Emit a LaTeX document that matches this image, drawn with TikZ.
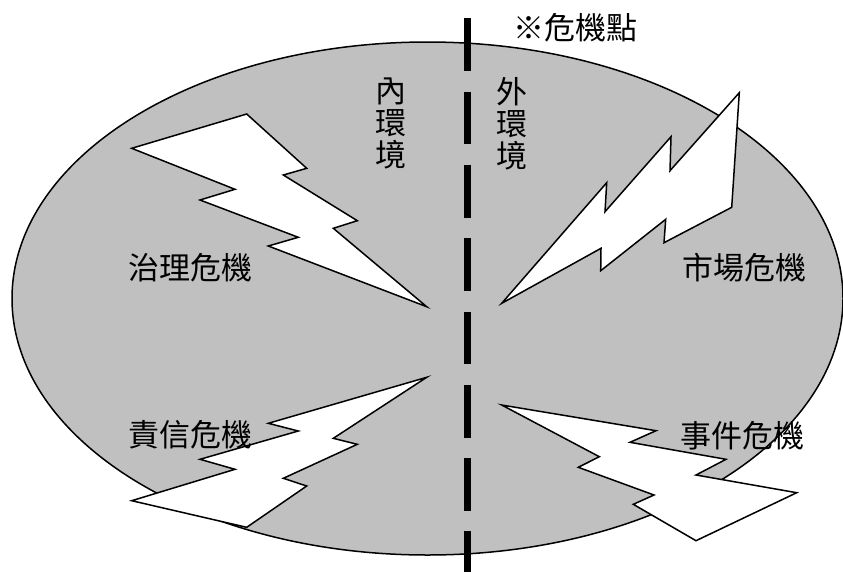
\documentclass[tikz,border=0pt]{standalone}
\usepackage{fontspec}
\newfontfamily\cjk{Noto Sans CJK TC}
\definecolor{silverfill}{RGB}{192,192,192}
\tikzset{
  bolt/.style={draw=black, fill=white, line width=1.5pt, line join=miter},
  label/.style={font=\cjk\fontsize{31}{32}\selectfont, text=black, inner sep=0pt, align=center},
  divider/.style={line width=7pt, dash pattern=on 52.7pt off 20.6pt}
}
\begin{document}
\begin{tikzpicture}[x=1pt, y=-1pt]
\useasboundingbox (0,0) rectangle (843,571);
\fill[white] (0,0) rectangle (843,571);
% background ellipse
\draw[fill=silverfill, line width=1.5pt] (427.5,298.5) ellipse [x radius=415.5, y radius=256.5];
% divider
\coordinate (dtop) at (467.5,18.3);
\coordinate (dbot) at (467.5,590);
\draw[divider] (dtop) -- (dbot);
% bolt 1 (governance)
\draw[bolt] (131.7,148.3) -- (246.7,114) -- (306.7,168.3) -- (283.3,175) -- (357.3,220.7)
  -- (333.3,228.3) -- (426.7,306.7) -- (268.3,246) -- (298.3,237.3) -- (200,200)
  -- (235,189.3) -- cycle;
% bolt 2 (market)
\draw[bolt] (501.7,303.3) -- (606.7,182.7) -- (605,211.7) -- (671,136.7) -- (670,170.7)
  -- (739.3,92.7) -- (731.7,207.3) -- (664,242.7) -- (665.7,219.3) -- (600.7,270.7)
  -- (601,248.3) -- cycle;
% bolt 3 (accountability)
\draw[bolt] (426.7,377.3) -- (268.3,423.3) -- (298.3,431) -- (200,459.3) -- (235,469.3)
  -- (131.7,500.7) -- (246.7,527.3) -- (306.7,486) -- (283.3,478.3) -- (357.3,444.3)
  -- (333.3,438.3) -- cycle;
% bolt 4 (incident)
\draw[bolt] (501.7,405) -- (656,430.7) -- (630,442.3) -- (726,459.3) -- (696,475)
  -- (796.7,492.7) -- (696,540.7) -- (633.3,504.3) -- (654,495) -- (578.3,467.3)
  -- (599.3,456.7) -- cycle;
% labels
\node[label] (crit) at (575.5,28) {※危機點};
\node[label] (inner) at (391,123.5) {內\\環\\境};
\node[label] (outer) at (511.5,123.5) {外\\環\\境};
\node[label] (gov) at (190,268) {治理危機};
\node[label] (mkt) at (744,268) {市場危機};
\node[label] (acc) at (190,435) {責信危機};
\node[label] (evt) at (742,436) {事件危機};
\end{tikzpicture}
\end{document}
